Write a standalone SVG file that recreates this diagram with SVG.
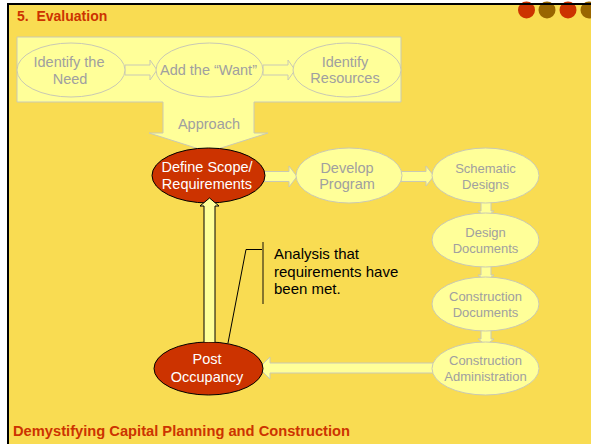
<svg xmlns="http://www.w3.org/2000/svg" width="591" height="444" viewBox="0 0 591 444">
<style>
.lt{fill:#FFFF99;stroke:#C9C9B4;stroke-width:1}
.red{fill:#CC3300;stroke:#000;stroke-width:1}
.g{font-family:"Liberation Sans",Arial,sans-serif;font-size:14.5px;fill:#A0A0A0;text-anchor:middle}
.gs{font-family:"Liberation Sans",Arial,sans-serif;font-size:13px;fill:#A0A0A0;text-anchor:middle}
.w{font-family:"Liberation Sans",Arial,sans-serif;font-size:14.5px;fill:#FFFFFF;text-anchor:middle}
.k{font-family:"Liberation Sans",Arial,sans-serif;font-size:15px;fill:#000}
.t{font-family:"Liberation Sans",Arial,sans-serif;font-weight:bold;fill:#CC3300}
</style>
<rect x="0" y="0" width="591" height="444" fill="#FFFFFF"/>
<rect x="8" y="4" width="583" height="440" fill="#F9DC52"/>
<g id="dots">
<circle cx="526.5" cy="10" r="8.5" fill="#CC3300"/>
<circle cx="547" cy="10" r="8.5" fill="#996600"/>
<circle cx="568" cy="10" r="8.5" fill="#CC3300"/>
<circle cx="589" cy="10" r="8.5" fill="#996600"/>
</g>
<rect x="7" y="3" width="584" height="2" fill="#000"/>
<rect x="7" y="3" width="2" height="441" fill="#000"/>
<text class="t" x="17" y="21" font-size="14" xml:space="preserve">5.  Evaluation</text>

<g id="approach">
<path class="lt" d="M17,37 H401 V102 H254 V133 H268 L208.5,152 L149,133 H163 V102 H17 Z"/>
<text class="g" x="209" y="129">Approach</text>
</g>

<g id="connectors">
<path class="lt" d="M125,65 H150 V60 L157,70 L150,80 V75 H125 Z"/>
<path class="lt" d="M263,65 H288 V60 L295,70 L288,80 V75 H263 Z"/>
<path class="lt" d="M264,171.5 H289 V166 L297,176.5 L289,187 V181.5 H264 Z"/>
<path class="lt" d="M401,171.5 H426 V166 L434,176 L426,186 V181.5 H401 Z"/>
<path class="lt" d="M481,200 H491 V211 H494 L486,217 L478,211 H481 Z"/>
<path class="lt" d="M481,264 H491 V275 H494 L486,281 L478,275 H481 Z"/>
<path class="lt" d="M481,328 H491 V339 H494 L486,345 L478,339 H481 Z"/>
<path class="lt" d="M434,363 H270 V357 L259,368 L270,379 V373 H434 Z"/>
</g>

<g id="identify-need">
<ellipse class="lt" cx="71" cy="70" rx="54" ry="27"/>
<text class="g" x="69" y="67">Identify the</text>
<text class="g" x="70" y="84">Need</text>
</g>
<g id="add-want">
<ellipse class="lt" cx="209.5" cy="70" rx="53.5" ry="27"/>
<text class="g" x="208.5" y="75">Add the “Want”</text>
</g>
<g id="identify-resources">
<ellipse class="lt" cx="347" cy="70" rx="54" ry="27"/>
<text class="g" x="345" y="67">Identify</text>
<text class="g" x="345" y="83">Resources</text>
</g>

<g id="define-scope">
<ellipse class="red" cx="208.5" cy="175.5" rx="56.5" ry="27.5"/>
<text class="w" x="207" y="172">Define Scope/</text>
<text class="w" x="207" y="189">Requirements</text>
</g>
<g id="develop-program">
<ellipse class="lt" cx="349" cy="175.5" rx="53" ry="27.5"/>
<text class="g" x="347" y="173">Develop</text>
<text class="g" x="347" y="189">Program</text>
</g>
<g id="schematic-designs">
<ellipse class="lt" cx="485.5" cy="175.5" rx="53.5" ry="27.5"/>
<text class="gs" x="485.5" y="173">Schematic</text>
<text class="gs" x="485.5" y="189">Designs</text>
</g>
<g id="design-documents">
<ellipse class="lt" cx="485.5" cy="240" rx="53.5" ry="27"/>
<text class="gs" x="485.5" y="237">Design</text>
<text class="gs" x="485.5" y="253">Documents</text>
</g>
<g id="construction-documents">
<ellipse class="lt" cx="485.5" cy="304" rx="53.5" ry="27"/>
<text class="gs" x="485.5" y="301">Construction</text>
<text class="gs" x="485.5" y="317">Documents</text>
</g>
<g id="construction-administration">
<ellipse class="lt" cx="485.5" cy="368.5" rx="53.5" ry="26.5"/>
<text class="gs" x="485.5" y="365">Construction</text>
<text class="gs" x="485.5" y="381">Administration</text>
</g>

<g id="post-occupancy">
<ellipse class="red" cx="208.5" cy="368.5" rx="54.5" ry="26.5"/>
<text class="w" x="207" y="364">Post</text>
<text class="w" x="207" y="382">Occupancy</text>
</g>

<g id="feedback-arrow">
<path d="M204,342 V206 H200 L209.5,198 L219,206 H215 V342" fill="#FFFF99" stroke="#000" stroke-width="1"/>
</g>

<g id="callout">
<polyline points="228,343 246,249.5 262,249.5" fill="none" stroke="#000" stroke-width="1"/>
<line x1="263" y1="242" x2="263" y2="304" stroke="#5F5322" stroke-width="1.5"/>
<text class="k" x="274" y="259">Analysis that</text>
<text class="k" x="274" y="277">requirements have</text>
<text class="k" x="274" y="294">been met.</text>
</g>

<text class="t" x="13" y="436" font-size="14.7">Demystifying Capital Planning and Construction</text>
</svg>
